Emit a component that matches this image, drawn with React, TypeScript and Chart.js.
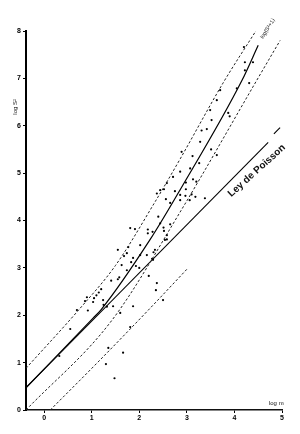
import React, { useEffect, useRef } from "react";
import { Chart, registerables } from "chart.js";

Chart.register(...registerables);

// Axis ticks
const xTicks = [0, 1, 2, 3, 4, 5];
const yTicks = [0, 1, 2, 3, 4, 5, 6, 7, 8];

// Observed points (log m, log S²)
const ptsX = [0.32, 0.55, 0.69, 0.86, 0.9, 0.92, 1.03, 1.05, 1.1, 1.15, 1.2, 1.24, 1.3, 1.35, 1.32, 1.41, 1.45, 1.48, 1.55, 1.58, 1.55, 1.6, 1.63, 1.66, 1.68, 1.74, 1.74, 1.77, 1.81, 1.81, 1.83, 1.87, 1.87, 1.91, 1.93, 2.0, 2.02, 2.02, 2.16, 2.18, 2.18, 2.2, 2.27, 2.28, 2.29, 2.3, 2.33, 2.35, 2.37, 2.4, 2.44, 2.5, 2.51, 2.52, 2.54, 2.58, 2.58, 2.65, 2.65, 2.37, 2.44, 2.52, 2.56, 2.58, 2.71, 2.75, 2.86, 2.86, 2.86, 2.89, 2.97, 2.98, 2.98, 3.06, 3.07, 3.1, 3.12, 3.13, 3.18, 3.2, 3.26, 3.28, 3.31, 3.38, 3.42, 3.49, 3.51, 3.52, 3.63, 3.63, 3.7, 3.87, 3.9, 4.05, 4.22, 4.22, 4.31, 4.39, 4.2, 1.25];
const ptsY = [1.14, 1.71, 2.11, 2.3, 2.38, 2.1, 2.28, 2.36, 2.42, 2.48, 2.55, 2.32, 0.97, 1.31, 2.18, 2.73, 2.19, 0.67, 2.76, 2.8, 3.38, 2.05, 3.06, 1.21, 3.25, 2.95, 3.31, 3.44, 3.84, 1.75, 3.12, 2.19, 3.21, 3.82, 3.04, 3.0, 3.27, 3.48, 3.27, 3.81, 3.73, 2.83, 3.19, 3.76, 3.17, 3.33, 3.38, 2.53, 2.68, 4.08, 3.94, 2.32, 3.85, 3.78, 3.59, 3.69, 3.6, 3.92, 4.37, 4.57, 4.64, 4.66, 4.45, 4.79, 4.92, 4.62, 4.54, 4.43, 5.03, 5.45, 4.52, 4.66, 4.8, 4.43, 5.1, 4.55, 5.36, 4.87, 4.5, 4.82, 5.21, 5.66, 5.9, 4.47, 5.93, 6.33, 5.5, 6.12, 5.38, 6.54, 6.75, 6.27, 6.2, 6.79, 7.34, 7.17, 6.9, 7.34, 7.66, 2.22];

// Poisson law line
const poissonX = [-0.38, 4.71];
const poissonY = [0.47, 5.65];
const poissonTailX = [4.83, 4.96];
const poissonTailY = [5.83, 5.96];

// Fitted curve
const fitX = [-0.38, 1.03, 1.2, 2.23, 2.86, 4.16, 4.5];
const fitY = [0.47, 1.94, 2.12, 3.6, 4.65, 6.96, 7.7];

// Confidence band (dashed)
const upperX = [-0.38, 0.76, 1.5, 2.33, 2.86, 3.76, 4.45];
const upperY = [0.88, 2.15, 3.05, 4.39, 5.3, 6.9, 8.0];
const lowerX = [-0.38, 1.43, 2.86, 4.47, 4.96];
const lowerY = [0, 1.9, 4.18, 6.96, 7.8];

// Lower dashed line
const low2X = [0.13, 1.18, 2.23, 3.0];
const low2Y = [0, 1.06, 2.15, 2.97];

const zip = (xs: number[], ys: number[]) => xs.map((x, i) => ({ x, y: ys[i] }));

const lineDs = (xs: number[], ys: number[], dashed: boolean, width = 1.1) => ({
  type: "line" as const,
  data: zip(xs, ys),
  borderColor: dashed ? "#222" : "#000",
  borderWidth: dashed ? 1 : width,
  borderDash: dashed ? [2.5, 2] : [],
  pointRadius: 0,
  showLine: true,
  fill: false,
  cubicInterpolationMode: "monotone" as const,
});

const textPlugin = {
  id: "texts",
  afterDraw(chart: any) {
    const { ctx, scales } = chart;
    const xs = scales.x;
    const ys = scales.y;
    const put = (txt: string, px: number, py: number, ang: number, font: string) => {
      ctx.save();
      ctx.translate(px, py);
      ctx.rotate((ang * Math.PI) / 180);
      ctx.font = font;
      ctx.fillStyle = "#111";
      ctx.textAlign = "center";
      ctx.textBaseline = "middle";
      ctx.fillText(txt, 0, 0);
      ctx.restore();
    };
    put("Ley de Poisson", xs.getPixelForValue(4.47), ys.getPixelForValue(5.05), -42, "bold 10px 'Liberation Sans', Arial, sans-serif");
    put("log(S²+1)", xs.getPixelForValue(4.7), ys.getPixelForValue(8.05), -58, "5.5px 'Liberation Sans', Arial, sans-serif");
    put("log m", xs.getPixelForValue(4.88), ys.getPixelForValue(0.13), 0, "6px 'Liberation Sans', Arial, sans-serif");
    put("log S²", xs.left - 11, ys.getPixelForValue(6.4), -90, "6px 'Liberation Sans', Arial, sans-serif");
  },
};

export default function App() {
  const ref = useRef<HTMLCanvasElement | null>(null);
  useEffect(() => {
    if (!ref.current) return;
    const tickFont = { family: "'Liberation Sans', Arial, sans-serif", size: 7, weight: "bold" as const };
    const chart = new Chart(ref.current, {
      type: "scatter",
      data: {
        datasets: [
          lineDs(upperX, upperY, true),
          lineDs(lowerX, lowerY, true),
          lineDs(low2X, low2Y, true),
          lineDs(fitX, fitY, false, 1.2),
          lineDs(poissonX, poissonY, false, 1.1),
          lineDs(poissonTailX, poissonTailY, false, 1.1),
          {
            type: "scatter" as const,
            data: zip(ptsX, ptsY),
            backgroundColor: "#000",
            borderColor: "#000",
            pointRadius: 1.1,
            borderWidth: 0,
          },
        ] as any,
      },
      options: {
        animation: false,
        responsive: false,
        maintainAspectRatio: false,
        layout: { padding: { top: 31, right: 18, left: 0, bottom: 0 } },
        plugins: { legend: { display: false }, tooltip: { enabled: false } },
        scales: {
          x: {
            type: "linear",
            min: -0.38,
            max: 5,
            afterBuildTicks: (s: any) => {
              s.ticks = xTicks.map((v) => ({ value: v }));
            },
            afterFit: (s: any) => {
              s.height = 24;
            },
            grid: { display: true, drawOnChartArea: false, tickLength: 3, color: "#000", lineWidth: 1 },
            border: { display: true, color: "#111", width: 1.5 },
            ticks: { font: tickFont, color: "#000", padding: 1, maxRotation: 0 },
          },
          y: {
            type: "linear",
            min: 0,
            max: 8,
            afterBuildTicks: (s: any) => {
              s.ticks = yTicks.map((v) => ({ value: v }));
            },
            afterFit: (s: any) => {
              s.width = 26;
            },
            grid: { display: true, drawOnChartArea: false, tickLength: 3, color: "#000", lineWidth: 1 },
            border: { display: true, color: "#000", width: 2 },
            ticks: { font: tickFont, color: "#000", padding: 2 },
          },
        },
      },
      plugins: [textPlugin],
    });
    return () => chart.destroy();
  }, []);
  return (
    <div style={{ position: "fixed", left: 0, top: 0, width: 300, height: 434, background: "#fff" }}>
      <canvas ref={ref} width={300} height={434} style={{ width: 300, height: 434, display: "block" }} />
    </div>
  );
}
